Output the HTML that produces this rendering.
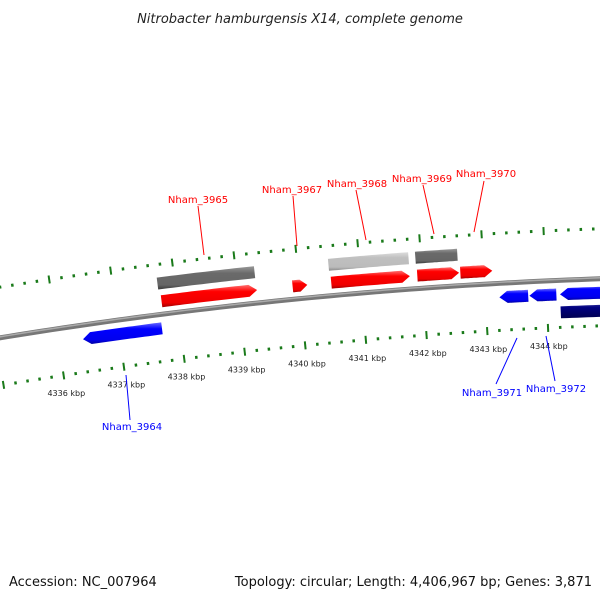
<!DOCTYPE html>
<html><head><meta charset="utf-8"><style>
body{margin:0;background:#fff;width:600px;height:600px;overflow:hidden}
svg{display:block;font-family:"DejaVu Sans","Liberation Sans",sans-serif}
</style></head><body>
<svg id="map" width="600" height="600" viewBox="0 0 600 600" xmlns="http://www.w3.org/2000/svg">
<defs>
<linearGradient id="gRed" x1="0" y1="0" x2="0" y2="1"><stop offset="0" stop-color="#ff7070"/><stop offset="0.3" stop-color="#ff0000"/><stop offset="0.8" stop-color="#ee0000"/><stop offset="1" stop-color="#a00000"/></linearGradient>
<linearGradient id="gBlue" x1="0" y1="0" x2="0" y2="1"><stop offset="0" stop-color="#6a6aff"/><stop offset="0.3" stop-color="#0000ff"/><stop offset="0.8" stop-color="#0000ee"/><stop offset="1" stop-color="#0000a0"/></linearGradient>
<linearGradient id="gNavy" x1="0" y1="0" x2="0" y2="1"><stop offset="0" stop-color="#3a3aa0"/><stop offset="0.3" stop-color="#000080"/><stop offset="1" stop-color="#000050"/></linearGradient>
<linearGradient id="gGray" x1="0" y1="0" x2="0" y2="1"><stop offset="0" stop-color="#999"/><stop offset="0.3" stop-color="#6a6a6a"/><stop offset="0.8" stop-color="#666"/><stop offset="1" stop-color="#3a3a3a"/></linearGradient>
<linearGradient id="gLight" x1="0" y1="0" x2="0" y2="1"><stop offset="0" stop-color="#ddd"/><stop offset="0.3" stop-color="#c0c0c0"/><stop offset="0.8" stop-color="#bbb"/><stop offset="1" stop-color="#888"/></linearGradient>
</defs>
<text x="300" y="23" text-anchor="middle" font-size="13" font-style="italic" fill="#222">Nitrobacter hamburgensis X14, complete genome</text>
<g id="ticks"></g>
<g id="backbone"></g>
<g id="genes"></g>
<g id="labels"></g>
<text x="9" y="586" font-size="13" fill="#111">Accession: NC_007964</text>
<text x="592" y="586" text-anchor="end" font-size="13" fill="#111">Topology: circular; Length: 4,406,967 bp; Genes: 3,871</text>
</svg>
<script>
// data (kbp)
const geneNames=["Nham_3964","","Nham_3965","Nham_3967","","Nham_3968","","Nham_3969","Nham_3970","Nham_3971","Nham_3972","",""];
const geneStarts=[4336.40,4337.72,4337.75,4339.89,4340.50,4340.52,4341.91,4341.92,4342.62,4343.23,4343.72,4344.22,4344.22];
const geneEnds=[4337.70,4339.30,4339.31,4340.13,4341.80,4341.80,4342.59,4342.60,4343.14,4343.70,4344.16,4346.0,4346.0];
const geneTracks=["rev","cds","fwd","fwd","cds","fwd","cds","fwd","fwd","rev","rev","rev","rev2"];
const geneFills=["gBlue","gGray","gRed","gRed","gLight","gRed","gGray","gRed","gRed","gBlue","gBlue","gBlue","gNavy"];
const tickLabels=["4336 kbp","4337 kbp","4338 kbp","4339 kbp","4340 kbp","4341 kbp","4342 kbp","4343 kbp","4344 kbp"];
const tickValues=[4336,4337,4338,4339,4340,4341,4342,4343,4344];
const labelAnchors=[[132,430,126,375,130,420],null,[198,203,198,206,204,255],[292,193,293,196,297,246],null,[357,187,356,190,366,240],null,[422,182,423,185,434,234],[486,177,484,181,474,232],[492,396,517,338,496,384],[556,392,546,336,555,381],null,null];

const NS="http://www.w3.org/2000/svg";
const CX=763,CY=5016,K0=4340,T0=-0.0977,DT=0.01297;
const R={back:4740,outer:4790,inner:4693,fwd:[4747,4759],cds:[4765,4777],rev:[4720,4732],rev2:[4702,4714],lab:4675};
function ang(k){return T0+(k-K0)*DT;}
function pt(k,r){const t=ang(k);return [CX+r*Math.sin(t),CY-r*Math.cos(t)];}
function arcPts(k1,k2,r,n){const a=[];for(let i=0;i<=n;i++){a.push(pt(k1+(k2-k1)*i/n,r));}return a;}
function mk(tag,attrs,parent){const e=document.createElementNS(NS,tag);for(const k in attrs)e.setAttribute(k,attrs[k]);parent.appendChild(e);return e;}

// backbone
const bb=document.getElementById('backbone');
const bpts=arcPts(4335,4346,R.back,60).map(p=>p.join(',')).join(' ');
let b1=mk('polyline',{points:bpts,fill:'none',stroke:'#777','stroke-width':5},bb);


let b2=mk('polyline',{points:arcPts(4335,4346,R.back+1,60).map(p=>p.join(',')).join(' '),fill:'none',stroke:'#aaa','stroke-width':1.5},bb);



// ticks
const tg=document.getElementById('ticks');
for(let i=0;i<=52;i++){
  const k=4335+i*0.2;
  const major=Math.abs(k-Math.round(k))<1e-6;
  [R.outer,R.inner].forEach(r=>{
    const h=major?4:1.5;
    const a=pt(k,r-h),b=pt(k,r+h);
    const l=mk('line',{x1:a[0],y1:a[1],x2:b[0],y2:b[1],stroke:'#1a7a1a','stroke-width':major?2:2.5},tg);
    
    
  });
}
tickValues.forEach((v,i)=>{
  const p=pt(v,R.lab);
  const t=mk('text',{x:p[0],y:p[1]+3,'text-anchor':'middle','font-size':8,fill:'#222'},tg);
  t.textContent=tickLabels[i];
  
  
});

// genes
const gg=document.getElementById('genes');
const HEAD=0.13;
geneStarts.forEach((s,i)=>{
  const e=geneEnds[i],tr=geneTracks[i],r=R[tr];
  let pts=[];
  const mid=(r[0]+r[1])/2;
  if(tr==='fwd'){
    const h=Math.min(HEAD,(e-s)*0.5);
    pts=pts.concat(arcPts(s,e-h,r[1],20));pts.push(pt(e,mid));pts=pts.concat(arcPts(e-h,s,r[0],20));
  }else if(tr==='rev'){
    const h=Math.min(HEAD,(e-s)*0.5);
    pts.push(pt(s,mid));pts=pts.concat(arcPts(s+h,e,r[1],20));pts=pts.concat(arcPts(e,s+h,r[0],20));
  }else{
    pts=pts.concat(arcPts(s,e,r[1],20));pts=pts.concat(arcPts(e,s,r[0],20));
  }
  const p=mk('polygon',{points:pts.map(q=>q.map(v=>v.toFixed(1)).join(',')).join(' '),fill:'url(#'+geneFills[i]+')'},gg);
  
  
  const a=labelAnchors[i];
  if(a&&geneNames[i]){
    const col=(tr==='fwd')?'#ff0000':'#0000ff';
    const ln=mk('line',{x1:a[2],y1:a[3],x2:a[4],y2:a[5],stroke:col,'stroke-width':1},document.getElementById('labels'));
    
    
    const t=mk('text',{x:a[0],y:a[1],'text-anchor':'middle','font-size':10,fill:col},document.getElementById('labels'));
    t.textContent=geneNames[i];
    
    
  }
});
</script>
</body></html>
